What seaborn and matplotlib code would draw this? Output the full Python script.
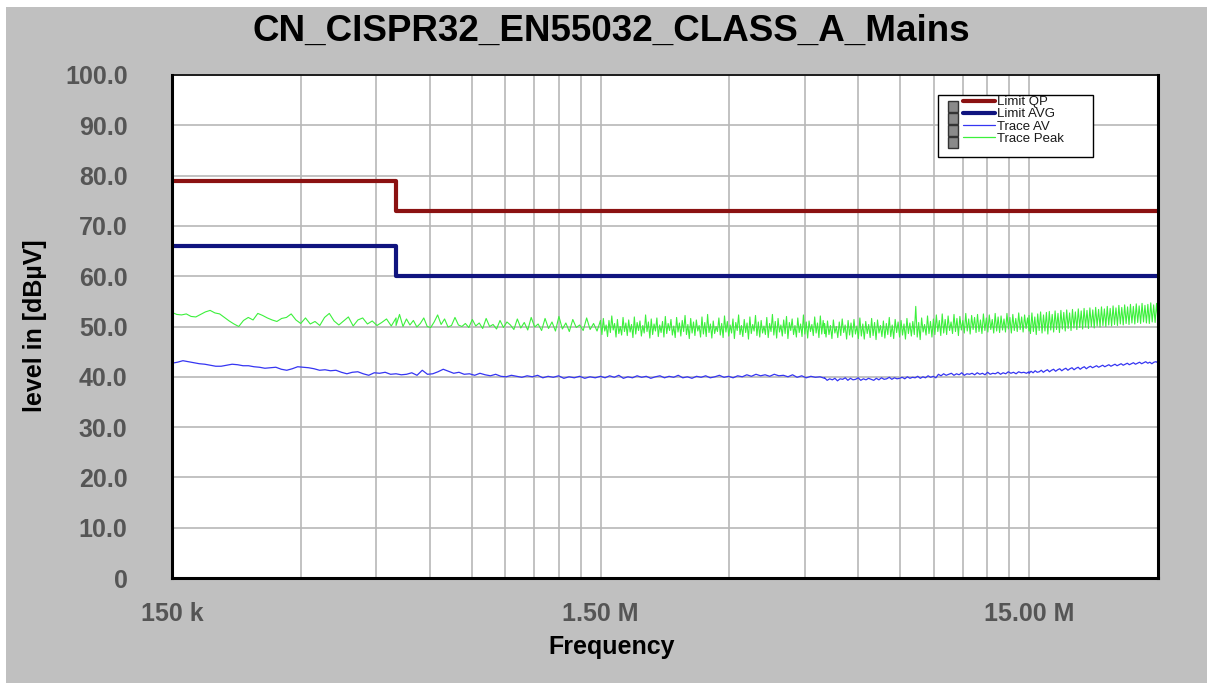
import numpy as np
import pandas as pd
import matplotlib
matplotlib.use("Agg")
import matplotlib.pyplot as plt
import seaborn as sns
from matplotlib.lines import Line2D
from matplotlib.patches import Rectangle
from matplotlib.ticker import FixedLocator, NullFormatter

# Limit lines (MHz, dBuV)
limit_freq = [0.15, 0.5, 30.0]
limit_qp = [79.0, 73.0, 73.0]
limit_avg = [66.0, 60.0, 60.0]

# Trace Peak, split in sweep segments (levels in dBuV)
peak_seg_a = [52.8, 52.4, 52.3, 52.5, 52.0, 51.9, 52.4, 52.9, 53.2, 52.7, 52.5, 51.8, 51.1, 50.5, 50.0,
              51.2, 51.8, 51.3, 52.6, 52.2, 51.7, 51.3, 51.0, 51.6, 51.8, 52.5, 51.3, 50.6, 51.7, 50.5,
              51.0, 50.2, 51.8, 52.6, 51.1, 50.3, 51.1, 51.9, 50.1, 51.3, 51.7, 50.5, 51.1, 50.2, 50.8,
              51.5, 50.1, 51.7]
peak_seg_b = [50.2, 52.4, 50.0, 51.5, 50.3, 51.2, 49.9, 50.6, 51.7, 50.0, 49.8, 50.9, 52.3, 50.4, 51.5,
              49.9, 50.2, 51.8, 50.3, 50.0, 50.6, 49.8, 51.4, 50.1, 50.7, 49.6, 51.6, 50.0, 50.4, 49.5,
              51.2, 49.8, 50.9, 50.3, 49.4, 51.5, 49.7, 50.8, 49.3, 51.8, 49.9, 50.5, 49.2, 51.6, 49.6,
              50.9, 49.1, 52.0, 49.5, 50.7, 49.0, 51.4, 49.8, 50.3, 49.2, 51.7, 49.4, 50.6, 49.1, 51.2]
peak_seg_c1 = [50.9, 48.4, 51.6, 49.1, 50.3, 48.0, 51.2, 48.8, 52.1, 49.3, 50.6, 47.9, 51.4, 48.6, 50.0, 48.3, 51.8, 49.0, 50.7, 48.2,
               51.3, 48.9, 50.4, 47.8, 51.9, 48.5, 50.8, 49.2, 51.1, 48.1, 50.2, 48.7, 52.3, 49.0, 50.9, 47.7, 51.5, 48.4, 50.5, 49.1,
               51.7, 48.0, 50.3, 48.8, 51.0, 47.9, 52.0, 48.6, 50.6, 49.2, 51.4, 48.3, 50.1, 47.8, 51.8, 48.9, 50.7, 48.1, 51.2, 49.0,
               52.2, 48.4, 50.4, 47.6, 51.6, 48.7, 50.9, 48.2, 51.3, 49.1, 50.2, 47.9, 51.9, 48.5, 50.8, 48.0, 52.4, 48.8, 50.5, 47.7,
               51.1, 48.6, 50.0, 49.0, 51.7, 48.3, 50.6, 47.8, 52.1, 48.9, 51.0, 48.1, 50.3, 48.7, 51.5, 47.6, 50.8, 49.2, 52.3, 48.4,
               50.2, 48.0, 51.4, 48.8, 50.7, 47.5, 51.9, 48.6, 50.4, 49.1, 52.2, 48.2, 50.9, 47.9, 51.2, 48.7, 50.1, 48.4, 51.8, 47.8,
               50.6, 49.0, 52.4, 48.3, 51.0, 47.7, 51.6, 48.9, 50.3, 48.1, 51.3, 48.6, 52.0, 47.6, 50.8, 49.2, 51.5, 48.4, 50.2, 47.9,
               51.7, 48.8, 50.5, 48.0, 52.3, 48.5, 50.9, 47.7, 51.1, 49.0, 50.4, 48.2, 51.9, 48.7, 50.7, 47.8, 52.1, 48.5, 51.2, 48.6]
peak_seg_c2 = [50.6, 47.9, 51.1, 48.4, 50.2, 47.6, 51.3, 48.7, 50.0, 47.8, 50.9, 48.2, 51.5, 48.8, 50.3, 47.5, 51.2, 48.3, 50.7, 47.9,
               51.4, 48.5, 50.1, 47.6, 51.7, 48.1, 50.5, 47.5, 51.0, 48.6, 50.4, 47.8, 51.6, 48.2, 50.8, 47.4, 51.3, 48.7, 50.2, 48.0,
               51.1, 47.7, 50.6, 48.4, 51.8, 48.0, 50.3, 47.6, 51.4, 48.8, 50.9, 47.9, 51.2, 48.3, 50.5, 47.5, 51.6, 48.6, 50.7, 48.1,
               51.0, 48.4, 54.0, 47.9, 50.8, 47.4, 51.7, 48.9, 50.4, 48.3, 52.1, 48.6, 51.0, 47.9, 51.5, 48.4, 52.3, 49.0, 51.2, 48.2,
               52.5, 48.7, 51.4, 48.4, 52.1, 49.2, 50.9, 48.6, 52.4, 49.0, 51.6, 48.2, 52.0, 49.3, 51.2, 48.7, 52.6, 49.1, 51.5, 48.5,
               52.2, 49.4, 51.8, 48.8, 52.4, 49.0, 51.3, 48.6, 52.5, 49.2, 51.7, 48.9, 52.3, 49.4, 51.4, 48.7, 52.6, 49.1, 51.9, 48.8,
               52.1, 49.3, 51.5, 48.9, 52.6, 49.5, 51.8, 48.7, 52.4, 49.2, 51.6, 49.0, 52.7, 49.4, 51.9, 48.9, 52.3, 49.6, 51.7, 49.1]
peak_seg_c3 = [52.2, 48.6, 52.7, 49.0, 51.9, 48.4, 52.5, 49.2, 52.9, 48.7, 52.3, 49.1, 52.8, 48.5, 53.0, 49.3, 52.4, 48.9, 53.1, 49.4,
               52.6, 48.8, 53.2, 49.5, 52.8, 49.1, 53.3, 49.6, 52.7, 49.2, 53.4, 49.7, 52.9, 49.4, 53.5, 49.8, 53.1, 49.5, 53.6, 49.9,
               53.2, 49.6, 53.7, 50.0, 53.3, 49.7, 53.8, 50.1, 53.4, 49.9, 53.9, 50.2, 53.5, 50.0, 54.0, 50.3, 53.6, 50.1, 54.1, 50.4,
               53.7, 50.2, 54.2, 50.5, 53.8, 50.3, 54.3, 50.6, 53.9, 50.4, 54.4, 50.7, 54.0, 50.5, 54.5, 50.8, 54.1, 50.6, 54.6, 50.9,
               54.2, 50.7, 54.4, 50.6, 54.7, 50.9, 54.3, 50.8, 54.6, 51.0]

# Trace AV
av_seg_a = [42.7, 42.9, 43.2, 43.0, 42.8, 42.6, 42.5, 42.3, 42.1, 42.1, 42.3, 42.5, 42.4, 42.2, 42.2,
            42.0, 41.9, 41.7, 41.8, 41.9, 41.5, 41.3, 41.6, 42.0, 41.9, 41.8, 41.6, 41.3, 41.4, 41.2,
            41.3, 40.9, 40.6, 40.9, 41.0, 40.6, 40.3, 40.8, 40.7, 40.9, 40.5, 40.6]
av_seg_b = [40.6, 40.4, 40.5, 40.8, 40.3, 41.3, 40.5, 40.6, 41.0, 41.5, 41.1, 40.7, 40.9, 40.5, 40.6,
            40.3, 40.7, 40.4, 40.2, 40.5, 40.1, 40.0, 40.3, 40.1, 39.9, 40.2, 40.0, 40.3, 39.8, 40.1,
            39.9, 40.2, 39.7, 40.0, 39.8, 40.1, 39.7, 40.0, 39.8, 40.1]
av_seg_c1 = [40.1, 39.8, 40.2, 39.9, 40.3, 39.7, 40.0, 39.8, 40.2, 39.9, 40.1, 39.7, 40.0, 40.2, 39.8,
             40.1, 39.9, 40.3, 39.8, 40.0, 39.7, 40.1, 39.9, 40.2, 39.8, 40.0, 40.3, 39.9, 40.1, 39.8,
             40.2, 40.0, 40.4, 40.1, 40.5, 40.2, 40.4, 40.1, 40.5, 40.2, 40.3, 40.0, 40.4, 39.9, 40.2,
             39.8, 40.1, 39.9, 40.0, 39.7]
av_seg_c2 = [39.8, 39.3, 39.6, 39.4, 39.7, 39.2, 39.6, 39.5, 39.8, 39.3, 39.7, 39.4, 39.5, 39.8, 39.3, 39.6, 39.4, 39.7, 39.5, 39.3,
             39.7, 39.4, 39.8, 39.5, 39.6, 39.9, 39.5, 39.8, 39.6, 39.7, 39.9, 39.6, 40.0, 39.7, 39.9, 39.8, 40.1, 39.7, 40.0, 39.8,
             40.2, 39.9, 40.1, 39.8, 40.5, 40.2, 40.6, 40.3, 40.5, 40.7, 40.3, 40.6, 40.4, 40.8, 40.3, 40.6, 40.5, 40.7, 40.4, 40.8,
             40.5, 40.7, 40.4, 40.9, 40.5, 40.7, 40.6, 40.9, 40.5, 40.8, 40.6, 41.0, 40.7, 40.9, 40.6, 41.0, 40.8, 40.9, 40.7, 41.0]
av_seg_c3 = [40.7, 41.1, 40.8, 41.2, 40.9, 41.0, 41.3, 40.9, 41.2, 41.4, 41.0, 41.3, 41.5, 41.1, 41.4, 41.6, 41.2, 41.5, 41.7, 41.3,
             41.6, 41.8, 41.4, 41.7, 41.9, 41.5, 41.8, 42.0, 41.6, 41.9, 42.1, 41.8, 42.0, 42.2, 41.9, 42.1, 42.3, 42.0, 42.2, 42.4,
             42.1, 42.3, 42.5, 42.2, 42.4, 42.6, 42.3, 42.5, 42.7, 42.4, 42.6, 42.8, 42.5, 42.7, 42.9, 42.6, 42.8, 43.0, 42.7, 42.9,
             42.6, 42.9, 43.0, 42.8]

seg_edges = [0.15, 0.5, 1.5, 5.0, 15.0, 30.0]
x_ticks = [0.15, 1.5, 15.0]
x_tick_labels = ["150 k", "1.50 M", "15.00 M"]
y_ticks = [0, 10, 20, 30, 40, 50, 60, 70, 80, 90, 100]
y_tick_labels = ["0", "10.0", "20.0", "30.0", "40.0", "50.0", "60.0", "70.0", "80.0", "90.0", "100.0"]


def sweep(segments):
    # each segment holds its sweep points evenly on the log axis
    freqs, levels = [], []
    for (f0, f1), vals in zip(zip(seg_edges[:-1], seg_edges[1:]), segments):
        freqs.extend(np.geomspace(f0, f1, len(vals)))
        levels.extend(vals)
    return pd.DataFrame({"freq": freqs, "level": levels})


peak_df = sweep([peak_seg_a, peak_seg_b, peak_seg_c1, peak_seg_c2, peak_seg_c3])
av_df = sweep([av_seg_a, av_seg_b, av_seg_c1, av_seg_c2, av_seg_c3])
qp_df = pd.DataFrame({"freq": limit_freq, "level": limit_qp})
avg_df = pd.DataFrame({"freq": limit_freq, "level": limit_avg})

sns.set_theme(style="white")
plt.rcParams["font.family"] = ["Liberation Sans", "DejaVu Sans"]

W, H = 1213, 689
fig = plt.figure(figsize=(W / 100, H / 100), dpi=100)
fig.patch.set_facecolor("white")
fig.add_artist(Rectangle((6 / W, 1 - 683 / H), 1201 / W, 676 / H, transform=fig.transFigure,
                         facecolor="#c0c0c0", edgecolor="none", zorder=-10))

ax = fig.add_axes([172 / W, 1 - 578 / H, 986 / W, 503 / H])
ax.set_facecolor("white")

c_qp, c_avg, c_av, c_peak = "#8b1212", "#10147f", "#3535f2", "#3cf03c"

sns.lineplot(data=peak_df, x="freq", y="level", ax=ax, color=c_peak, lw=0.8, estimator=None, sort=False)
sns.lineplot(data=av_df, x="freq", y="level", ax=ax, color=c_av, lw=0.9, estimator=None, sort=False)
sns.lineplot(data=qp_df, x="freq", y="level", ax=ax, color=c_qp, lw=3, drawstyle="steps-post",
             estimator=None, sort=False)
sns.lineplot(data=avg_df, x="freq", y="level", ax=ax, color=c_avg, lw=3, drawstyle="steps-post",
             estimator=None, sort=False)

ax.set_xscale("log")
ax.set_xlim(0.15, 30)
ax.set_ylim(0, 100)
ax.set_xticks(x_ticks)
ax.set_xticklabels(x_tick_labels)
minor = [0.15 * k * d for d in (1, 10, 100) for k in range(2, 10)] + [30.0]
ax.xaxis.set_minor_locator(FixedLocator(minor))
ax.xaxis.set_minor_formatter(NullFormatter())
ax.set_yticks(y_ticks)
ax.set_yticklabels(y_tick_labels)
ax.grid(True, which="both", axis="x", color="#b8b8b8", lw=1.2)
ax.grid(True, which="major", axis="y", color="#b8b8b8", lw=1.2)
ax.set_axisbelow(True)
ax.tick_params(axis="both", which="both", length=0, labelsize=18, labelcolor="#555555")
ax.tick_params(axis="y", pad=32)
ax.tick_params(axis="x", pad=17)
for lab in ax.get_xticklabels() + ax.get_yticklabels():
    lab.set_fontweight("bold")
ax.set_xlabel("")
ax.set_ylabel("")
for s in ax.spines.values():
    s.set_color("black")
    s.set_linewidth(1.2)
ax.spines["left"].set_linewidth(2.2)
ax.spines["bottom"].set_linewidth(2.2)
ax.spines["right"].set_linewidth(2.2)

fig.text(611 / W, 1 - 31 / H, "CN_CISPR32_EN55032_CLASS_A_Mains", ha="center", va="center",
         fontsize=26.5, fontweight="bold", color="black")
fig.text(612 / W, 1 - 647 / H, "Frequency", ha="center", va="center", fontsize=18,
         fontweight="bold", color="black")
fig.text(35 / W, 1 - 326 / H, "level in [dBµV]", ha="center", va="center", rotation=90,
         fontsize=18, fontweight="bold", color="black")

# legend box with the grey square column
fig.add_artist(Rectangle((938 / W, 1 - 157 / H), 155 / W, 62 / H, transform=fig.transFigure,
                         facecolor="white", edgecolor="black", lw=1, zorder=5))
for i in range(4):
    fig.add_artist(Rectangle((948 / W, 1 - (112 + 12 * i) / H), 10 / W, 11 / H, transform=fig.transFigure,
                             facecolor="#8a8a8a", edgecolor="#333333", lw=1, zorder=6))
handles = [Line2D([], [], color=c_qp, lw=3), Line2D([], [], color=c_avg, lw=3),
           Line2D([], [], color=c_av, lw=0.9), Line2D([], [], color=c_peak, lw=0.9)]
leg = fig.legend(handles, ["Limit QP", "Limit AVG", "Trace AV", "Trace Peak"], loc="upper left",
                 bbox_to_anchor=(963 / W, 1 - 96 / H), frameon=False, fontsize=9.5, labelspacing=0.0,
                 handlelength=2.4, handletextpad=0.15, borderpad=0, borderaxespad=0)
leg.set_zorder(7)
for t in leg.get_texts():
    t.set_color("#1a1a1a")

fig.savefig("out.png", dpi=100)
